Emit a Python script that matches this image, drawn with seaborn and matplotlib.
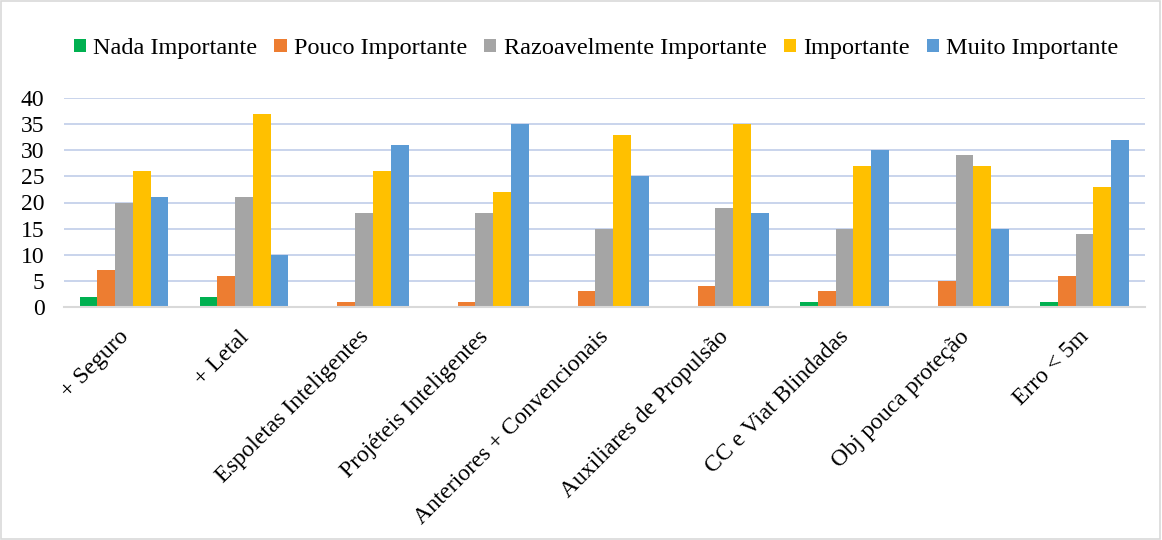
import numpy as np
import pandas as pd

import matplotlib.pyplot as plt
import matplotlib.transforms as mtransforms
import seaborn as sns

categories = ["+ Seguro", "+ Letal", "Espoletas Inteligentes", "Projéteis Inteligentes",
              "Anteriores + Convencionais", "Auxiliares de Propulsão", "CC e Viat Blindadas",
              "Obj pouca proteção", "Erro < 5m"]

nada = [2, 2, 0, 0, 0, 0, 1, 0, 1]
pouco = [7, 6, 1, 1, 3, 4, 3, 5, 6]
razoavel = [20, 21, 18, 18, 15, 19, 15, 29, 14]
importante = [26, 37, 26, 22, 33, 35, 27, 27, 23]
muito = [21, 10, 31, 35, 25, 18, 30, 15, 32]

series = ["Nada Importante", "Pouco Importante", "Razoavelmente Importante",
          "Importante", "Muito Importante"]
colors = ["#00b050", "#ed7d31", "#a5a5a5", "#ffc000", "#5b9bd5"]

rows = []
for name, vals in zip(series, [nada, pouco, razoavel, importante, muito]):
    for cat, v in zip(categories, vals):
        rows.append({"Categoria": cat, "Serie": name, "Valor": v})
df = pd.DataFrame(rows)

sns.set_style("white", {"text.color": "black", "xtick.color": "black", "ytick.color": "black"})
plt.rcParams["font.family"] = ["Liberation Serif", "DejaVu Serif"]

fig = plt.figure(figsize=(11.62, 5.40), dpi=100)
ax = fig.add_axes([0.055, 0.4315, 0.93, 0.387])

sns.barplot(data=df, x="Categoria", y="Valor", hue="Serie", hue_order=series,
            palette=colors, saturation=1, width=0.74, gap=0, ax=ax, legend=True,
            edgecolor="none", linewidth=0)

ax.set_ylim(0, 40)
ax.set_xlim(-0.5, len(categories) - 0.5)
ax.set_yticks(range(0, 41, 5))
ax.tick_params(axis="y", labelsize=17, length=0, pad=14, labelcolor="black")
ax.tick_params(axis="x", labelsize=17, length=0, pad=14, labelcolor="black")
ax.set_xticks(range(len(categories)))
ax.set_xticklabels(categories, rotation=45, ha="right", rotation_mode="anchor")
shift = mtransforms.ScaledTranslation(-6 / 100, 0, fig.dpi_scale_trans)
for lbl in ax.get_xticklabels():
    lbl.set_transform(lbl.get_transform() + shift)
ax.set_xlabel("")
ax.set_ylabel("")
ax.grid(axis="y", color="#c5d1ea", linewidth=1.3)
ax.set_axisbelow(True)
for s in ["top", "right", "left"]:
    ax.spines[s].set_visible(False)
ax.spines["bottom"].set_color("#d9d9d9")
ax.spines["bottom"].set_linewidth(1.5)

handles, labels = ax.get_legend_handles_labels()
leg = ax.legend(handles, labels, loc="center", bbox_to_anchor=(0.513, 0.91),
                bbox_transform=fig.transFigure, ncol=5, frameon=False, fontsize=17.5,
                handlelength=0.5, handleheight=0.5, handletextpad=0.3, columnspacing=0.7)
for t in leg.get_texts():
    t.set_color("black")

fig.patches.append(plt.Rectangle((0.001, 0.002), 0.997, 0.996, transform=fig.transFigure,
                                 fill=False, edgecolor="#d9d9d9", linewidth=1.2))

fig.savefig("out.png", dpi=100, facecolor="white")
